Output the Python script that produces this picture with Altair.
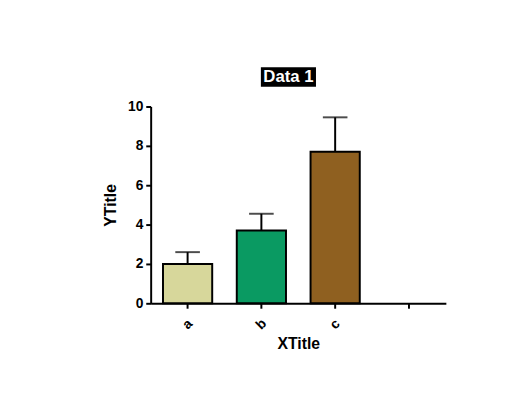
import altair as alt
import pandas as pd

categories = ["a", "b", "c"]
means = [2.0, 3.7, 7.7]
errors = [0.6, 0.85, 1.75]
colors = ["#d7d79b", "#0a9a62", "#8f6020"]
domain_cats = ["a", "b", "c", "d"]
y_ticks = [0, 2, 4, 6, 8, 10]

df = pd.DataFrame({
    "cat": categories,
    "mean": means,
    "upper": [m + e for m, e in zip(means, errors)],
})

FONT = "Liberation Sans"
common = dict(domainColor="black", domainWidth=2, tickColor="black", tickWidth=2, tickSize=5,
              labelFont=FONT, labelFontWeight="bold", labelFontSize=14, labelColor="black",
              titleFont=FONT, titleFontWeight="bold", titleFontSize=16, titleColor="black",
              grid=False)

x_axis = alt.Axis(title="XTitle", labelAngle=-45, labelAlign="center", labelBaseline="middle",
                  labelPadding=16, labelExpr="datum.value == 'd' ? '' : datum.value",
                  titlePadding=4, **common)
y_axis = alt.Axis(title="YTitle", values=y_ticks, titlePadding=9, labelPadding=3,
                  labelOverlap=False, labelFlush=False, **common)

x_scale = alt.Scale(domain=domain_cats, paddingInner=0.333, paddingOuter=0.167)
y_scale = alt.Scale(domain=[0, 10], nice=False)

X = alt.X("cat:N", scale=x_scale, axis=x_axis)

bars = alt.Chart(df).mark_bar(stroke="black", strokeWidth=2).encode(
    x=X, y=alt.Y("mean:Q", scale=y_scale, axis=y_axis),
    color=alt.Color("cat:N", scale=alt.Scale(domain=categories, range=colors), legend=None),
)

rule = alt.Chart(df).mark_rule(color="black", strokeWidth=2).encode(
    x=X, y=alt.Y("mean:Q", scale=y_scale, axis=y_axis), y2="upper:Q",
)

cap = alt.Chart(df).mark_tick(color="black", thickness=2, size=25, orient="horizontal").encode(
    x=X, y=alt.Y("upper:Q", scale=y_scale, axis=y_axis),
)

title_df = pd.DataFrame({"t": ["Data 1"]})
title_box = alt.Chart(title_df).mark_rect(color="black").encode(
    x=alt.value(112), x2=alt.value(168), y=alt.value(-40), y2=alt.value(-20),
)
title_txt = alt.Chart(title_df).mark_text(color="white", font=FONT, fontWeight="bold", fontSize=17,
                                          baseline="middle", align="center").encode(
    x=alt.value(140), y=alt.value(-30), text="t:N",
)

chart = alt.layer(bars, rule, cap, title_box, title_txt).properties(
    width=300, height=200,
    autosize=alt.AutoSizeParams(type="none"),
    padding={"left": 145, "top": 97, "right": 54, "bottom": 85},
).configure_view(stroke=None)

chart.save("out.html", embed_options={"renderer": "svg", "actions": False})
